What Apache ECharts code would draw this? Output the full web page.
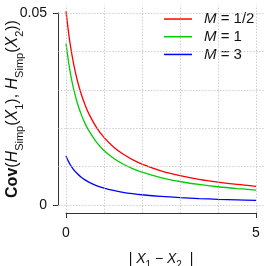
<!DOCTYPE html>
<html><head><meta charset="utf-8">
<script src="https://cdn.jsdelivr.net/npm/echarts@6/dist/echarts.min.js"></script>
<style>html,body{margin:0;padding:0;background:#fff}#c{width:266px;height:266px}</style>
</head><body><div id="c"></div>
<script>
// ---- data ----
const xs = [0, 0.1, 0.2, 0.3, 0.4, 0.5, 0.6, 0.8, 1, 1.25, 1.5, 1.75, 2, 2.5, 3, 3.5, 4, 4.5, 5];
const covHalf = [0.0505, 0.04254, 0.03675, 0.03235, 0.02889, 0.02610, 0.02380, 0.02023, 0.01760, 0.01513, 0.01327, 0.01182, 0.01065, 0.00890, 0.00764, 0.00669, 0.00596, 0.00536, 0.00488];
const covOne = [0.0421, 0.03520, 0.03024, 0.02651, 0.02360, 0.02126, 0.01935, 0.01639, 0.01422, 0.01220, 0.01069, 0.00950, 0.00856, 0.00714, 0.00612, 0.00536, 0.00476, 0.00429, 0.00390];
const covThree = [0.0127, 0.01069, 0.00923, 0.00812, 0.00725, 0.00655, 0.00597, 0.00507, 0.00441, 0.00379, 0.00332, 0.00296, 0.00267, 0.00223, 0.00191, 0.00168, 0.00149, 0.00134, 0.00122];
const seriesNames = ['M = 1/2', 'M = 1', 'M = 3'];
const xGrid = [0, 1, 2, 3, 4, 5];
const yGrid = [0, 0.01, 0.02, 0.03, 0.04, 0.05];
const xTicks = [0, 5];
const yTicks = [0, 0.05];

// ---- chart ----
const colors = ['#ff0000', '#00cd00', '#0000ff'];
const FONT = '"Liberation Sans", Arial, Helvetica, sans-serif';
const pair = (a) => xs.map((x, i) => [x, a[i]]);
const allSeries = [covHalf, covOne, covThree];

const chart = echarts.init(document.getElementById('c'), null, {renderer: 'canvas'});
const gridLines = xGrid.map(v => ({xAxis: v})).concat(yGrid.map(v => ({yAxis: v})));

const option = {
  animation: false,
  backgroundColor: '#fff',
  textStyle: {fontFamily: FONT},
  grid: [
    {left: 58.4, right: 2.4, top: 5.3, bottom: 53.3, containLabel: false, outerBoundsMode: 'none'},
    {left: 66, right: 10, top: 13, bottom: 61, containLabel: false, outerBoundsMode: 'none'}
  ],
  xAxis: [
    {gridIndex: 0, type: 'value', min: -0.2, max: 5.2, show: false},
    {gridIndex: 1, type: 'value', min: xTicks[0], max: xTicks[1], interval: 5, offset: 8,
     axisLine: {show: true, onZero: false, lineStyle: {color: '#333', width: 1}},
     axisTick: {show: true, length: 5, lineStyle: {color: '#333', width: 1}},
     splitLine: {show: false},
     axisLabel: {color: '#111', fontSize: 14, margin: 13, fontFamily: FONT},
     name: '{n|| }{i|X}{s|1}{n| − }{i|X}{s|2}{n|  |}',
     nameLocation: 'middle', nameGap: 39, nameMoveOverlap: false,
     nameTextStyle: {
       fontFamily: FONT, color: '#111',
       rich: {
         n: {fontSize: 14, fontFamily: FONT, color: '#111', lineHeight: 18, verticalAlign: 'top'},
         i: {fontSize: 14, fontStyle: 'italic', fontFamily: FONT, color: '#111', lineHeight: 18, verticalAlign: 'top'},
         s: {fontSize: 10, fontFamily: FONT, color: '#111', lineHeight: 10, verticalAlign: 'bottom'}
       }
     }}
  ],
  yAxis: [
    {gridIndex: 0, type: 'value', min: -0.002, max: 0.052, show: false},
    {gridIndex: 1, type: 'value', min: yTicks[0], max: yTicks[1], interval: 0.05, offset: 8,
     axisLine: {show: true, onZero: false, lineStyle: {color: '#333', width: 1}},
     axisTick: {show: true, length: 5, lineStyle: {color: '#333', width: 1}},
     splitLine: {show: false},
     axisLabel: {color: '#111', fontSize: 14, margin: 11, fontFamily: FONT},
     name: '{b|Cov}{n|(}{i|H}{s|Simp}{n|(}{i|X}{s|1}{n|), }{i|H}{s|Simp}{n|(}{i|X}{s|2}{n|))}',
     nameLocation: 'middle', nameRotate: 90, nameGap: 33, nameMoveOverlap: false,
     nameTextStyle: {
       fontFamily: FONT, color: '#111',
       rich: {
         b: {fontSize: 16, fontWeight: 'bold', fontFamily: FONT, color: '#111', lineHeight: 20, verticalAlign: 'top'},
         n: {fontSize: 16, fontFamily: FONT, color: '#111', lineHeight: 20, verticalAlign: 'top'},
         i: {fontSize: 16, fontStyle: 'italic', fontFamily: FONT, color: '#111', lineHeight: 20, verticalAlign: 'top'},
         s: {fontSize: 11, fontFamily: FONT, color: '#111', lineHeight: 10, verticalAlign: 'bottom'}
       }
     }}
  ],
  legend: {
    orient: 'vertical', left: 164, top: 10.2, padding: 0, itemGap: 0,
    icon: 'rect', itemWidth: 28, itemHeight: 1.5,
    data: seriesNames,
    formatter: (name) => '{sp|}{i|M}{n|' + name.slice(1) + '}',
    textStyle: {
      fontFamily: FONT, color: '#111', fontSize: 15, lineHeight: 17.7,
      rich: {
        sp: {width: 7},
        i: {fontSize: 15, fontStyle: 'italic', fontFamily: FONT, color: '#111', lineHeight: 17.7},
        n: {fontSize: 15, fontFamily: FONT, color: '#111', lineHeight: 17.7}
      }
    }
  },
  series: [
    {type: 'line', name: '__grid', xAxisIndex: 0, yAxisIndex: 0, data: [], z: 1, silent: true,
     markLine: {silent: true, symbol: 'none', label: {show: false}, animation: false,
       lineStyle: {color: '#b8b8b8', width: 1, type: [1, 2]}, data: gridLines}}
  ].concat(allSeries.map((a, k) => ({
    type: 'line', name: seriesNames[k], xAxisIndex: 0, yAxisIndex: 0,
    data: pair(a), smooth: 0.3, showSymbol: false, symbol: 'none', z: 3,
    lineStyle: {color: colors[k], width: 1.3}, itemStyle: {color: colors[k]}
  })))
};
chart.setOption(option);
</script></body></html>
